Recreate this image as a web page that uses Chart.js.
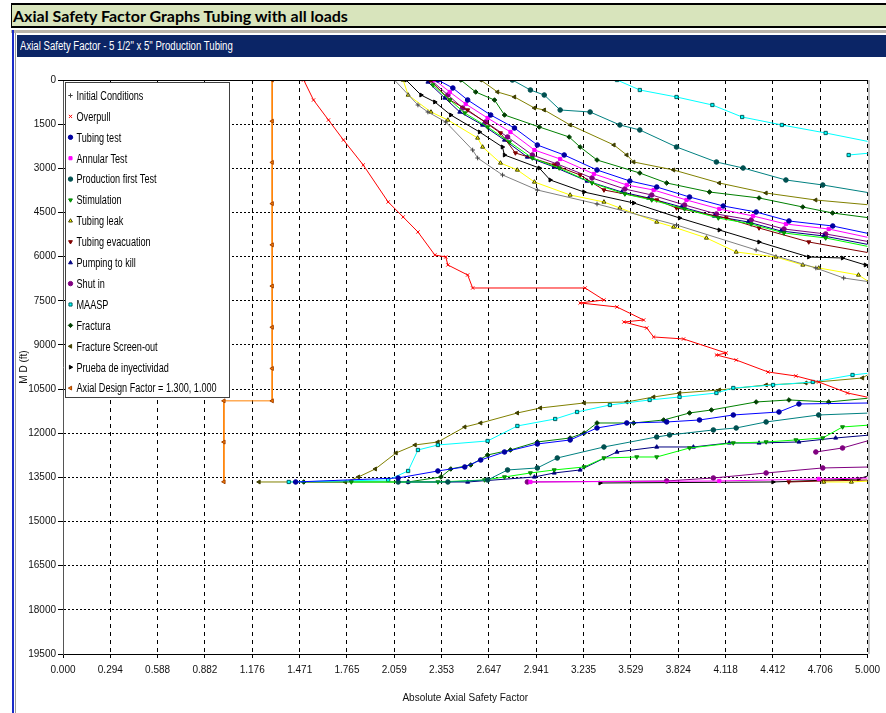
<!DOCTYPE html>
<html>
<head>
<meta charset="utf-8">
<script src="https://cdn.jsdelivr.net/npm/chart.js@4.4.0/dist/chart.umd.min.js"></script>
<style>
body{margin:0;width:886px;height:713px;overflow:hidden;background:#fff;position:relative;}
#sheet{position:absolute;left:11px;top:3px;width:875px;height:21px;background:#d8e4bc;border-top:2px solid #000;border-bottom:2px solid #000;border-left:1px solid #000;font:bold 16px Lato,'Open Sans',sans-serif;line-height:21px;padding-left:1px;box-sizing:content-box;color:#000;white-space:nowrap;}
#greyline{position:absolute;left:11px;top:30px;width:875px;height:3px;background:#b8b4ac;}
#blueedge{position:absolute;left:12px;top:30px;width:2px;height:683px;background:#1a2bc8;}
#greyedge{position:absolute;left:15px;top:33px;width:1px;height:680px;background:#9a9a9a;}
#bar{position:absolute;left:17px;top:35px;width:869px;height:22px;background:#0b2566;color:#fff;font:12px 'Liberation Sans',Arial,sans-serif;line-height:22px;padding-left:3px;box-sizing:border-box;white-space:nowrap;}
#bar span{display:inline-block;transform:scaleX(0.8);transform-origin:left center;}
#wrap{position:absolute;left:17px;top:57px;width:869px;height:656px;}
</style>
</head>
<body>
<div id="sheet">Axial Safety Factor Graphs Tubing with all loads</div>
<div id="greyline"></div>
<div id="blueedge"></div>
<div id="greyedge"></div>
<div id="bar"><span>Axial Safety Factor - 5 1/2" x 5" Production Tubing</span></div>
<div id="wrap"><canvas id="chart" width="869" height="656"></canvas></div>
<script>
var FONT = "'Liberation Sans', Arial, sans-serif";

var xTickLabels = ['0.000','0.294','0.588','0.882','1.176','1.471','1.765','2.059','2.353','2.647','2.941','3.235','3.529','3.824','4.118','4.412','4.706','5.000'];
var yTickLabels = [0,1500,3000,4500,6000,7500,9000,10500,12000,13500,15000,16500,18000,19500];

// safety factor (x) and measured depth in ft (y); null breaks the line
var initialSF = [2.06,2.206,2.268,2.379,2.546,2.577,2.732,2.948,3.319,3.813,4.308,4.679,4.852,5.02];
var initialMD = [0,849,1087,1427,2378,2650,3227,3737,4212,4926,5775,6386,6726,6862];

var overpullSF = [1.496,1.557,1.650,1.743,1.866,2.021,2.114,2.206,2.311,2.379,2.392,2.515,2.546,3.245,3.362,3.214,3.443,3.609,3.486,3.628,3.671,3.857,4.122,4.061,4.184,4.382,4.555,4.697,4.876,5.02];
var overpullMD = [0,680,1359,2038,2887,4144,4654,5163,5945,6013,6284,6624,7066,7066,7473,7575,7711,8153,8221,8425,8730,8798,9274,9342,9512,9919,10055,10259,10633,10800];

var tubingTestSF = [2.330,2.423,2.515,2.658,2.806,2.948,3.115,3.319,3.523,3.690,3.894,4.104,4.308,4.512,4.784,5.02,null,5.02,4.574,4.450,4.166,3.956,3.752,3.504,3.319,3.152,2.948,2.744,2.596,2.497,2.330,2.083,1.446];
var tubingTestMD = [0,272,679,1189,1631,2208,2548,3057,3431,3635,3975,4280,4484,4790,4960,5231,null,10972,11006,11278,11380,11550,11617,11652,11821,12229,12365,12637,12909,13146,13282,13520,13656];

var annularSF = [2.311,2.404,2.503,2.639,2.781,2.930,3.090,3.300,3.504,3.671,3.875,4.079,4.289,4.493,4.759,5.02,null,5.02,4.697,4.079,2.905];
var annularMD = [0,408,815,1291,1766,2378,2684,3193,3567,3737,4077,4382,4620,4892,5062,5367,null,13520,13554,13622,13656];

var productionSF = [2.793,2.905,2.991,3.090,3.276,3.461,3.585,3.813,4.061,4.227,4.493,4.722,5.02,null,5.02,4.697,4.370,4.184,4.042,3.770,3.690,3.362,3.072,2.948,2.763,2.639,2.392,2.083];
var productionMD = [0,340,510,1019,1087,1528,1698,2276,2786,2990,3397,3567,3839,null,11312,11380,11617,11821,11889,12059,12127,12467,12841,13180,13248,13588,13656,13656];

var stimulationSF = [2.299,2.404,2.497,2.639,2.775,2.917,3.084,3.288,3.492,3.659,3.863,4.073,4.277,4.481,4.740,5.02,null,5.02,4.845,4.722,4.555,4.370,4.166,3.894,3.690,3.566,3.362,3.239,3.053,2.905,2.744,2.620,2.330,1.792];
var stimulationMD = [170,679,1121,1597,2106,2650,2990,3499,3873,4076,4382,4688,4892,5197,5367,5673,null,11720,11787,12161,12229,12297,12331,12501,12807,12807,12841,13146,13248,13350,13486,13588,13656,13656];

var leakSF = [2.114,2.145,2.287,2.392,2.577,2.608,2.719,2.824,2.930,3.152,3.362,3.461,3.690,3.795,3.999,4.184,4.431,4.598,4.697,4.944,5.02,null,5.02,4.900,4.728];
var leakMD = [0,510,1087,1359,1970,2276,2820,3057,3465,3907,4144,4348,4824,4994,5367,5843,6013,6284,6386,6624,6896,null,13622,13656,13656];

var evacSF = [2.28,2.404,2.515,2.719,2.812,3.053,3.214,3.362,3.690,3.813,4.122,4.326,4.635,5.02,null,5.02,4.728,4.511];
var evacMD = [0,679,1019,1800,2479,2888,3227,3737,4077,4348,4688,5028,5503,5880,null,13588,13622,13656];

var killSF = [2.268,2.373,2.466,2.608,2.744,2.886,3.053,3.257,3.473,3.640,3.844,4.048,4.258,4.462,4.728,5.02,null,5.02,4.802,4.574,4.326,4.141,3.918,3.690,3.443,3.214,3.053,2.930,2.515,2.145];
var killMD = [68,611,1087,1529,2038,2616,2955,3431,3805,4008,4314,4620,4824,5130,5299,5605,null,12059,12161,12297,12331,12331,12467,12467,12637,13248,13350,13486,13656,13656];

var shutInSF = [2.287,2.392,2.484,2.627,2.763,2.917,3.072,3.288,3.492,3.659,3.863,4.061,4.277,4.481,4.740,5.02,null,5.02,4.845,4.679,null,5.02,4.722,4.370,4.042,3.752,2.886];
var shutInMD = [0,510,951,1427,1936,2548,2854,3329,3703,3907,4246,4552,4756,5062,5231,5503,null,12229,12501,12637,null,13146,13180,13350,13520,13622,13656];

var maaspSF = [3.443,3.585,3.813,4.036,4.221,4.468,4.740,5.02,null,4.883,5.02,null,5.02,4.907,4.660,4.413,4.166,4.061,3.832,3.646,3.399,3.195,3.059,2.824,2.639,2.330,2.206,2.145,2.021,1.403];
var maaspMD = [0,340,577,849,1257,1528,1800,2106,null,2548,2480,null,9953,10021,10259,10361,10463,10633,10769,10870,11040,11278,11516,11753,12263,12399,12569,13282,13588,13656];

var fracturaSF = [2.472,2.565,2.682,2.744,2.960,3.146,3.214,3.319,3.585,3.752,4.018,4.326,4.598,4.783,5.02,null,5.02,4.759,4.512,4.308,4.030,3.894,3.733,3.547,3.319,3.239,3.152,2.948,2.781,2.639,2.534,2.410,2.349,2.145,1.496];
var fracturaMD = [0,408,680,1189,1596,1936,2276,2718,3160,3499,3805,4008,4314,4518,4688,null,10802,10938,10870,10938,11210,11312,11550,11652,11652,11991,12161,12297,12569,12739,13078,13214,13486,13656,13656];

var screenOutSF = [2.596,2.701,2.806,2.930,2.991,3.152,3.424,3.504,3.547,3.795,4.079,4.369,4.678,5.02,null,5.02,4.969,4.617,4.370,4.079,3.832,3.671,3.504,3.239,2.967,2.824,2.596,2.497,2.330,2.188,2.070,1.941,1.836,1.755,1.218];
var screenOutMD = [0,408,577,951,1019,1528,2208,2548,2786,3057,3499,3839,4077,4246,null,9953,10123,10293,10361,10531,10633,10769,10938,10972,11142,11312,11652,11787,12297,12399,12671,13214,13486,13656,13656];

var injectivitySF = [2.132,2.225,2.311,2.410,2.589,2.731,2.744,2.960,3.028,3.238,3.547,3.832,4.079,4.326,4.635,4.845,4.987,5.02,null,5.02,4.944,4.413,3.338];
var injectivityMD = [0,510,747,1189,1766,2276,2548,2990,3397,3805,4178,4688,5096,5503,6013,6047,6284,6350,null,13418,13554,13656,13690];

var designSF = [1.3,1.3,1.3,1.3,1.3,1.3,1.3,1.3,1.3,1.0,1.0,1.0];
var designMD = [0,1400,2800,4200,5600,7000,8400,9800,10900,10900,12300,13650];

function pts(sf, md) {
  return sf.map(function (v, i) { return { x: v, y: md[i] }; });
}

function series(label, sf, md, color, style, rot, fill, edge) {
  return {
    label: label,
    data: pts(sf, md),
    showLine: true,
    spanGaps: false,
    borderColor: color,
    backgroundColor: color,
    borderWidth: 1,
    pointStyle: style,
    rotation: rot || 0,
    pointRadius: 2.3,
    pointHoverRadius: 2.3,
    pointBackgroundColor: fill || color,
    pointBorderColor: edge || color,
    pointBorderWidth: 1
  };
}

var datasets = [
  series('Initial Conditions', initialSF, initialMD, '#808080', 'cross', 0, '#606060', '#404040'),
  series('Overpull', overpullSF, overpullMD, '#ff0000', 'crossRot'),
  series('Tubing test', tubingTestSF, tubingTestMD, '#0000ff', 'circle', 0, '#0000a0', '#0000a0'),
  series('Annular Test', annularSF, annularMD, '#ff00ff', 'rect'),
  series('Production first Test', productionSF, productionMD, '#008080', 'circle', 0, '#005050', '#005050'),
  series('Stimulation', stimulationSF, stimulationMD, '#00ff00', 'triangle', 180, '#00b000', '#008000'),
  series('Tubing leak', leakSF, leakMD, '#ffff00', 'triangle', 0, '#ffff00', '#404000'),
  series('Tubing evacuation', evacSF, evacMD, '#800000', 'triangle', 180),
  series('Pumping to kill', killSF, killMD, '#000080', 'triangle'),
  series('Shut in', shutInSF, shutInMD, '#800080', 'circle'),
  series('MAASP', maaspSF, maaspMD, '#00ffff', 'rect', 0, '#00ffff', '#006060'),
  series('Fractura', fracturaSF, fracturaMD, '#008000', 'rectRot', 0, '#004000', '#004000'),
  series('Fracture Screen-out', screenOutSF, screenOutMD, '#808000', 'triangle', -90, '#404000', '#404000'),
  series('Prueba de inyectividad', injectivitySF, injectivityMD, '#000000', 'triangle', 90),
  series('Axial Design Factor = 1.300, 1.000', designSF, designMD, '#ff8000', 'triangle', -90, '#ff8000', '#a04000')
];

// frame + boxed legend inside the plot
var frameLegend = {
  id: 'frameLegend',
  afterDatasetsDraw: function (chart) {
    var ctx = chart.ctx, a = chart.chartArea;
    ctx.save();
    ctx.strokeStyle = '#000';
    ctx.lineWidth = 1;
    ctx.beginPath();
    ctx.moveTo(a.left, a.top + 0.5); ctx.lineTo(a.right, a.top + 0.5);
    ctx.stroke();
    ctx.strokeStyle = '#888';
    ctx.beginPath();
    ctx.moveTo(a.right + 1.5, a.top); ctx.lineTo(a.right + 1.5, a.bottom);
    ctx.stroke();

    var bx = a.left + 2.5, by = a.top + 2.5, bw = 164, bh = 315;
    ctx.fillStyle = '#fff';
    ctx.fillRect(bx, by, bw, bh);
    ctx.strokeStyle = '#404040';
    ctx.strokeRect(bx, by, bw, bh);
    ctx.font = '12px ' + FONT;
    ctx.textBaseline = 'middle';
    chart.data.datasets.forEach(function (ds, i) {
      var y = by + 13 + i * 20.9;
      ctx.fillStyle = ds.pointBackgroundColor;
      ctx.strokeStyle = ds.pointBorderColor;
      ctx.lineWidth = 1;
      Chart.helpers.drawPoint(ctx, { pointStyle: ds.pointStyle, rotation: ds.rotation, radius: 2.2, borderWidth: 1 }, bx + 5, y);
      ctx.save();
      ctx.translate(bx + 11, y + 1);
      ctx.scale(0.76, 1);
      ctx.fillStyle = '#000';
      ctx.fillText(ds.label, 0, 0);
      ctx.restore();
    });
    ctx.restore();
  }
};

new Chart(document.getElementById('chart').getContext('2d'), {
  type: 'scatter',
  data: { datasets: datasets },
  plugins: [frameLegend],
  options: {
    responsive: false,
    devicePixelRatio: 1,
    animation: false,
    events: [],
    layout: { padding: { top: 23, right: 13, left: 0, bottom: 0 } },
    plugins: { legend: { display: false }, tooltip: { enabled: false } },
    scales: {
      x: {
        type: 'linear',
        min: 0,
        max: 5,
        afterBuildTicks: function (s) {
          s.ticks = xTickLabels.map(function (t) { return { value: parseFloat(t) }; });
        },
        afterFit: function (s) { s.height = 59; },
        ticks: {
          autoSkip: false,
          maxRotation: 0,
          padding: 6,
          color: '#111',
          font: { family: FONT, size: 10 },
          callback: function (v, i) { return xTickLabels[i]; }
        },
        grid: { color: '#000', lineWidth: 1, tickLength: 4, tickColor: '#000' },
        border: { display: true, color: '#000', width: 1, dash: [4, 4] },
        title: { display: true, text: 'Absolute Axial Safety Factor', color: '#111', font: { family: FONT, size: 10 }, padding: { top: 0, bottom: 9 } }
      },
      y: {
        type: 'linear',
        reverse: true,
        min: 0,
        max: 19500,
        afterBuildTicks: function (s) {
          s.ticks = yTickLabels.map(function (t) { return { value: t }; });
        },
        afterFit: function (s) { s.width = 46; },
        ticks: {
          autoSkip: false,
          padding: 2,
          color: '#111',
          font: { family: FONT, size: 10 },
          callback: function (v) { return String(v); }
        },
        grid: { color: '#000', lineWidth: 1, tickLength: 5, tickColor: '#000' },
        border: { display: true, color: '#555', width: 1, dash: [2, 2] },
        title: { display: true, text: 'M D (ft)', color: '#111', font: { family: FONT, size: 10 }, padding: { top: 1, bottom: 0 } }
      }
    }
  }
});
</script>
</body>
</html>
